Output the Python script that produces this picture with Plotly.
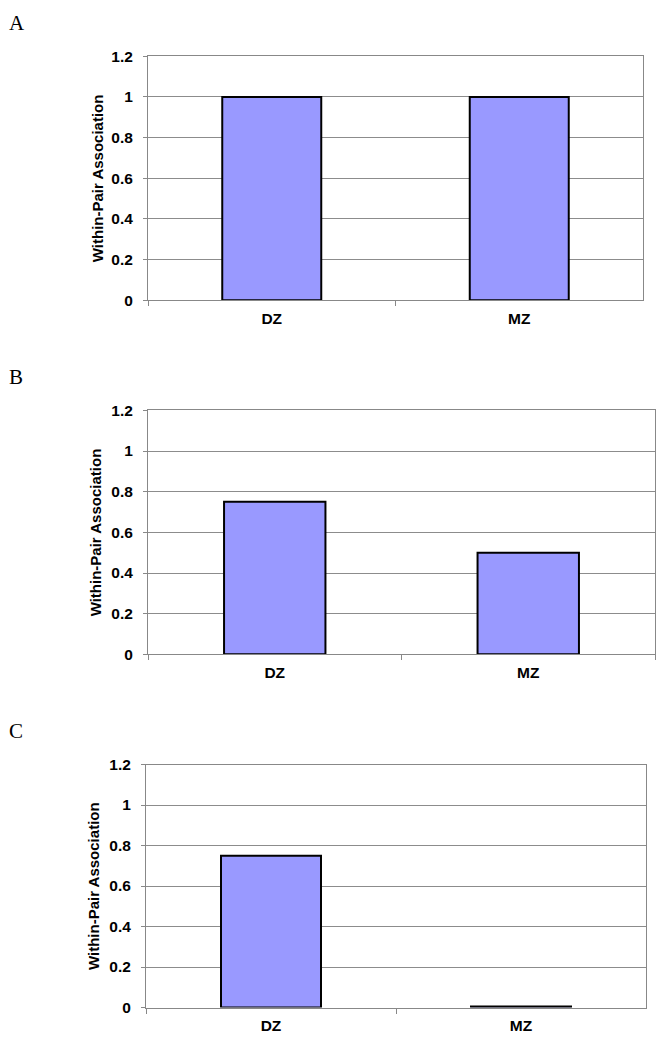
import plotly.graph_objects as go

W, H = 662, 1048

categories = ["DZ", "MZ"]
values_a = [1.0, 1.0]
values_b = [0.75, 0.5]
values_c = [0.75, 0.005]
panel_labels = ["A", "B", "C"]
y_title = "Within-Pair Association"
y_ticks = [0, 0.2, 0.4, 0.6, 0.8, 1, 1.2]
y_tick_text = ["0", "0.2", "0.4", "0.6", "0.8", "1", "1.2"]

# pixel boxes: (left, right, top, bottom)
boxes = [(148, 643, 48, 296), (148, 655, 408, 656), (146, 646, 768, 1015)]
label_pos = [(7, 14), (7, 374), (7, 734)]
title_x = [97, 95, 93]

fig = go.Figure()
annotations = []
series = [values_a, values_b, values_c]
for i, (vals, (l, r, t, b)) in enumerate(zip(series, boxes)):
    n = i + 1
    xa = "x" if n == 1 else f"x{n}"
    ya = "y" if n == 1 else f"y{n}"
    fig.add_trace(go.Bar(
        x=categories, y=vals, xaxis=xa, yaxis=ya,
        marker=dict(color="#9999FF", line=dict(color="#000000", width=2)),
        showlegend=False, hoverinfo="skip",
    ))
    axis_common = dict(showline=True, linecolor="#888888", linewidth=1, mirror=True)
    fig.layout[f"xaxis{'' if n == 1 else n}"] = dict(
        domain=[l / W, r / W], anchor=ya, type="category",
        tickson="boundaries", ticks="outside", ticklen=5, tickcolor="#888888",
        tickfont=dict(family="Liberation Sans", size=15.5, color="#000000", weight="bold"),
        showgrid=False, fixedrange=True, ticklabelstandoff=4, **axis_common,
    )
    fig.layout[f"yaxis{'' if n == 1 else n}"] = dict(
        domain=[1 - b / H, 1 - t / H], anchor=xa, range=[0, 1.2],
        tickvals=y_ticks, ticktext=y_tick_text,
        ticks="outside", ticklen=4, tickcolor="#888888",
        tickfont=dict(family="Liberation Sans", size=15.5, color="#000000", weight="bold"),
        showgrid=True, gridcolor="#8c8c8c", gridwidth=1, zeroline=False,
        fixedrange=True, ticklabelstandoff=7, **axis_common,
    )
    annotations.append(dict(
        text=y_title, textangle=-90, xref="paper", yref="paper",
        x=title_x[i] / W, y=1 - ((t + b) / 2) / H, xanchor="center", yanchor="middle",
        showarrow=False, font=dict(family="Liberation Sans", size=15, color="#000000", weight="bold"),
    ))
    lx, ly = label_pos[i]
    annotations.append(dict(
        text=panel_labels[i], xref="paper", yref="paper",
        x=lx / W, y=1 - ly / H, xanchor="left", yanchor="middle",
        showarrow=False, font=dict(family="Liberation Serif", size=21, color="#000000"),
    ))

fig.update_layout(
    width=W, height=H, margin=dict(l=0, r=0, t=0, b=0),
    paper_bgcolor="white", plot_bgcolor="white",
    bargap=0.6, annotations=annotations,
)
fig.write_html(
    "out.html",
    config={"displayModeBar": False},
    post_script="document.body.style.margin='0';document.body.style.overflow='hidden';",
)
